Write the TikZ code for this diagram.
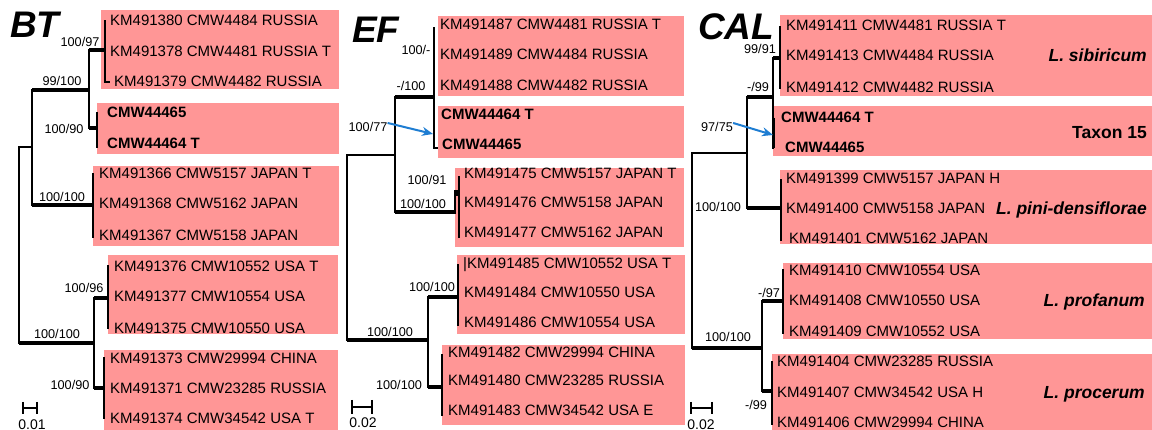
\documentclass[tikz,border=0pt]{standalone}
\usepackage{fontspec}
\setmainfont{Liberation Sans}
\usetikzlibrary{arrows.meta}
\definecolor{boxpink}{RGB}{255,150,150}
\definecolor{arrblue}{RGB}{30,125,210}
\newcommand\mytaxon[4]{\node[tx] (#1) at (#2,#3+5.4) {#4};}
\newcommand\mybold[4]{\node[txb] (#1) at (#2,#3+5.4) {#4};}
\newcommand\mysupp[4]{\node[lb] (#1) at (#2,#3+4.5) {#4};}
\newcommand\myspec[4]{\node[sp] (#1) at (#2,#3+6.2) {#4};}
\begin{document}
\begin{tikzpicture}[x=1pt,y=-1pt,
 br/.style={line width=1.6pt,line cap=rect},
 tk/.style={line width=4.6pt},
 md/.style={line width=2.6pt},
 tx/.style={anchor=base west,inner sep=0pt,font=\fontsize{15}{15}\selectfont},
 txb/.style={tx,font=\fontsize{15}{15}\selectfont\bfseries},
 sp/.style={anchor=base east,inner sep=0pt,font=\fontsize{17.5}{17.5}\selectfont\bfseries\itshape},
 lb/.style={anchor=base,inner sep=0pt,font=\fontsize{12.7}{12.7}\selectfont},
 sc/.style={anchor=base,inner sep=0pt,font=\fontsize{14}{14}\selectfont},
 ttl/.style={anchor=base west,inner sep=0pt,text depth=0pt,font=\fontsize{37}{37}\selectfont\bfseries\itshape},
 box/.style={fill=boxpink},
 arr/.style={arrblue,line width=2pt,-{Stealth[length=11pt,width=9pt]}}]
\useasboundingbox (0,0) rectangle (1152,430);
\fill[white] (0,0) rectangle (1152,430);

% ================= BT =================
\fill[box] (101,10) rectangle (339,89);
\fill[box] (97,103) rectangle (339,154);
\fill[box] (93,166) rectangle (339,246);
\fill[box] (108,255) rectangle (338,334);
\fill[box] (104,350) rectangle (338,430);
\node[ttl] (bt) at (10,38) {BT};
\mytaxon{b1}{110}{20}{KM491380 CMW4484 RUSSIA}
\mytaxon{b2}{110}{51}{KM491378 CMW4481 RUSSIA T}
\mytaxon{b3}{114}{81}{KM491379 CMW4482 RUSSIA}
\mybold{b4}{107}{112}{CMW44465}
\mybold{b5}{107}{143}{CMW44464 T}
\mytaxon{b6}{99}{173}{KM491366 CMW5157 JAPAN T}
\mytaxon{b7}{99}{203}{KM491368 CMW5162 JAPAN}
\mytaxon{b8}{99}{235}{KM491367 CMW5158 JAPAN}
\mytaxon{b9}{114}{266}{KM491376 CMW10552 USA T}
\mytaxon{b10}{114}{296}{KM491377 CMW10554 USA}
\mytaxon{b11}{114}{328}{KM491375 CMW10550 USA}
\mytaxon{b12}{110}{358}{KM491373 CMW29994 CHINA}
\mytaxon{b13}{110}{388}{KM491371 CMW23285 RUSSIA}
\mytaxon{b14}{110}{418}{KM491374 CMW34542 USA T}
% tree
\draw[br] (105,21) -- (105,82) -- (109,82);
\draw[tk] (89,50) -- (105,50);
\draw[br] (89,50) -- (89,128);
\draw[tk] (89,128) -- (98,128);
\draw[md] (97,112) -- (97,148);
\draw[tk] (32,90) -- (89,90);
\draw[br] (32,90) -- (32,205);
\draw[tk] (32,205) -- (93,205);
\draw[br] (93,174) -- (93,237);
\draw[br] (32,147) -- (19,147) -- (19,343);
\draw[tk] (19,343) -- (94,343);
\draw[br] (94,298) -- (94,388);
\draw[tk] (94,298) -- (108,298);
\draw[br] (108,266) -- (108,328);
\draw[tk] (94,388) -- (104,388);
\draw[br] (104,358) -- (104,418);
\mysupp{s1}{80}{42}{100/97}
\mysupp{s2}{62}{81}{99/100}
\mysupp{s3}{64}{129}{100/90}
\mysupp{s4}{62}{197}{100/100}
\mysupp{s5}{57}{334}{100/100}
\mysupp{s6}{84}{288}{100/96}
\mysupp{s7}{70}{385}{100/90}
\draw[line width=1.6pt] (23,408) -- (37,408);
\draw[line width=1.6pt] (23,402) -- (23,414);
\draw[line width=1.6pt] (37,402) -- (37,414);
\node[sc] (sc1) at (32,429) {0.01};

% ================= EF =================
\fill[box] (438,16) rectangle (684,96);
\fill[box] (438,106) rectangle (684,158);
\fill[box] (455,168) rectangle (684,247);
\fill[box] (457,255) rectangle (685,334);
\fill[box] (442,345) rectangle (685,425);
\node[ttl] (ef) at (352,43) {EF};
\mytaxon{e1}{440}{24}{KM491487 CMW4481 RUSSIA T}
\mytaxon{e2}{440}{54}{KM491489 CMW4484 RUSSIA}
\mytaxon{e3}{440}{85}{KM491488 CMW4482 RUSSIA}
\mybold{e4}{441}{114}{CMW44464 T}
\mybold{e5}{442}{144}{CMW44465}
\mytaxon{e6}{464}{173}{KM491475 CMW5157 JAPAN T}
\mytaxon{e7}{464}{202}{KM491476 CMW5158 JAPAN}
\mytaxon{e8}{464}{232}{KM491477 CMW5162 JAPAN}
\mytaxon{e9}{463}{263}{|KM491485 CMW10552 USA T}
\mytaxon{e10}{464}{292}{KM491484 CMW10550 USA}
\mytaxon{e11}{464}{322}{KM491486 CMW10554 USA}
\mytaxon{e12}{448}{352}{KM491482 CMW29994 CHINA}
\mytaxon{e13}{448}{380}{KM491480 CMW23285 RUSSIA}
\mytaxon{e14}{448}{410}{KM491483 CMW34542 USA E}
% tree
\draw[br] (434,28) -- (434,148) -- (437,148);
\draw[md] (434,104) -- (434,138);
\draw[tk] (395,97) -- (435,97);
\draw[br] (395,97) -- (395,212);
\draw[tk] (395,212) -- (455,212);
\draw[md] (455,190) -- (455,214);
\draw[line width=6pt] (454,193) -- (460,193);
\draw[br] (459,177) -- (459,237);
\draw[br] (395,155) -- (347,155) -- (347,340);
\draw[tk] (347,340) -- (428,340);
\draw[br] (428,297) -- (428,387);
\draw[tk] (428,297) -- (458,297);
\draw[br] (458,265) -- (458,325);
\draw[tk] (428,387) -- (442,387);
\draw[br] (442,355) -- (442,415);
\coordinate (ea) at (433,134);
\mysupp{t1}{416}{50}{100/-}
\mysupp{t2}{411}{86}{-/100}
\mysupp{t3}{368}{127}{100/77}
\mysupp{t4}{427}{180}{100/91}
\mysupp{t5}{423}{204}{100/100}
\mysupp{t6}{390}{332}{100/100}
\mysupp{t7}{432}{287}{100/100}
\mysupp{t8}{399}{385}{100/100}
\draw[arr] (t3.east) ++(0,-4) -- (ea);
\draw[line width=1.6pt] (352,407) -- (372,407);
\draw[line width=1.6pt] (352,400) -- (352,414);
\draw[line width=1.6pt] (372,400) -- (372,414);
\node[sc] (sc2) at (363,428) {0.02};

% ================= CAL =================
\fill[box] (780,15) rectangle (1152,96);
\fill[box] (773,106) rectangle (1152,156);
\fill[box] (780,170) rectangle (1152,244);
\fill[box] (783,263) rectangle (1152,339);
\fill[box] (772,354) rectangle (1152,430);
\node[ttl] (cal) at (698,40) {CAL};
\mytaxon{c1}{786}{25}{KM491411 CMW4481 RUSSIA T}
\mytaxon{c2}{786}{55}{KM491413 CMW4484 RUSSIA}
\mytaxon{c3}{786}{87}{KM491412 CMW4482 RUSSIA}
\mybold{c4}{781}{117}{CMW44464 T}
\mybold{c5}{785}{147}{CMW44465}
\mytaxon{c6}{786}{178}{KM491399 CMW5157 JAPAN H}
\mytaxon{c7}{786}{208}{KM491400 CMW5158 JAPAN}
\mytaxon{c8}{789}{238}{KM491401 CMW5162 JAPAN}
\mytaxon{c9}{789}{270}{KM491410 CMW10554 USA}
\mytaxon{c10}{789}{300}{KM491408 CMW10550 USA}
\mytaxon{c11}{789}{331}{KM491409 CMW10552 USA}
\mytaxon{c12}{777}{361}{KM491404 CMW23285 RUSSIA}
\mytaxon{c13}{777}{392}{KM491407 CMW34542 USA H}
\mytaxon{c14}{777}{422}{KM491406 CMW29994 CHINA}
\myspec{p1}{1147}{55}{L. sibiricum}
\node[sp,font=\fontsize{17.5}{17.5}\selectfont\bfseries] (p2) at (1147,132+6.2) {Taxon 15};
\myspec{p3}{1147}{208}{L. pini-densiflorae}
\myspec{p4}{1145}{300}{L. profanum}
\myspec{p5}{1145}{392}{L. procerum}
% tree
\draw[br] (780,27) -- (780,88);
\draw[tk] (773,58) -- (781,58);
\draw[br] (773,58) -- (773,148);
\draw[md] (774,118) -- (774,148);
\draw[tk] (747,97) -- (774,97);
\draw[br] (747,97) -- (747,208);
\draw[tk] (747,208) -- (781,208);
\draw[br] (781,180) -- (781,240);
\draw[br] (747,153) -- (692,153) -- (692,348);
\draw[tk] (692,348) -- (762,348);
\draw[br] (762,301) -- (762,391);
\draw[tk] (762,301) -- (783,301);
\draw[br] (783,270) -- (783,333);
\draw[tk] (762,391) -- (772,391);
\draw[br] (772,362) -- (772,424);
\coordinate (ca) at (773,135);
\mysupp{u1}{760}{49}{99/91}
\mysupp{u2}{758}{87}{-/99}
\mysupp{u3}{717}{127}{97/75}
\mysupp{u4}{718}{207}{100/100}
\mysupp{u5}{728}{337}{100/100}
\mysupp{u6}{769}{293}{-/97}
\mysupp{u7}{756}{405}{-/99}
\draw[arr] (u3.east) ++(0,-4) -- (ca);
\draw[line width=1.6pt] (691,408) -- (712,408);
\draw[line width=1.6pt] (691,402) -- (691,414);
\draw[line width=1.6pt] (712,402) -- (712,414);
\node[sc] (sc3) at (701,429) {0.02};
\end{tikzpicture}
\end{document}
